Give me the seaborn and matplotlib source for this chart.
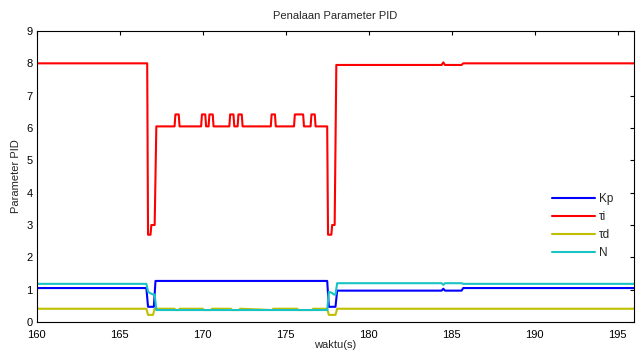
import seaborn as sns
import numpy as np
import pandas as pd
import matplotlib
matplotlib.use("Agg")
import matplotlib.pyplot as plt

# breakpoints (time in s, value)
kp_t = [160, 166.6, 166.7, 167.05, 167.15, 177.5, 177.6, 178.0, 178.1,
        184.4, 184.5, 184.6, 185.6, 185.7, 196]
kp_v = [1.05, 1.05, 0.47, 0.47, 1.27, 1.27, 0.47, 0.47, 0.97,
        0.97, 1.03, 0.97, 0.97, 1.05, 1.05]

ti_t = [160, 166.65, 166.7, 166.85, 166.9, 167.1, 167.2,
        168.3, 168.35, 168.55, 168.6,
        169.9, 169.95, 170.15, 170.2,
        170.35, 170.4, 170.6, 170.65,
        171.6, 171.65, 171.85, 171.9,
        172.1, 172.15, 172.35, 172.4,
        174.1, 174.15, 174.35, 174.4,
        175.5, 175.55, 176.05, 176.1,
        176.5, 176.55, 176.75, 176.8,
        177.5, 177.55, 177.75, 177.8, 177.95, 178.05,
        184.4, 184.5, 184.6, 185.6, 185.7, 196]
ti_v = [8.0, 8.0, 2.7, 2.7, 3.0, 3.0, 6.05,
        6.05, 6.42, 6.42, 6.05,
        6.05, 6.42, 6.42, 6.05,
        6.05, 6.42, 6.42, 6.05,
        6.05, 6.42, 6.42, 6.05,
        6.05, 6.42, 6.42, 6.05,
        6.05, 6.42, 6.42, 6.05,
        6.05, 6.42, 6.42, 6.05,
        6.05, 6.42, 6.42, 6.05,
        6.05, 2.7, 2.7, 3.0, 3.0, 7.95,
        7.95, 8.03, 7.95, 7.95, 8.0, 8.0]

td_t = [160, 166.6, 166.7, 167.0, 167.1,
        168.3, 168.35, 168.55, 168.6,
        170.0, 170.05, 170.5, 170.55,
        171.7, 171.75, 172.2, 172.25,
        174.2, 174.25,
        175.7, 175.75, 176.6, 176.65,
        177.5, 177.6, 178.0, 178.1, 196]
td_v = [0.41, 0.41, 0.22, 0.22, 0.41,
        0.41, 0.37, 0.37, 0.41,
        0.41, 0.37, 0.37, 0.41,
        0.41, 0.37, 0.37, 0.41,
        0.37, 0.41,
        0.41, 0.37, 0.37, 0.41,
        0.41, 0.22, 0.22, 0.41, 0.41]

n_t = [160, 166.6, 166.7, 166.8, 167.0, 167.1, 167.2, 177.5, 177.6, 177.8,
       177.9, 178.0, 178.1, 184.4, 184.5, 184.6, 185.6, 185.7, 196]
n_v = [1.18, 1.18, 0.94, 0.9, 0.85, 0.85, 0.37, 0.37, 0.93, 0.9,
       0.85, 0.85, 1.2, 1.2, 1.15, 1.2, 1.2, 1.18, 1.18]

labels = ["Kp", "\u03c4i", "\u03c4d", "N"]
colors = ["#0000ff", "#ff0000", "#bfbf00", "#19c3c3"]

frames = []
for name, t, v in zip(labels, [kp_t, ti_t, td_t, n_t], [kp_v, ti_v, td_v, n_v]):
    frames.append(pd.DataFrame({"t": t, "v": v, "param": name}))
df = pd.concat(frames, ignore_index=True)

sns.set_style("white")
plt.rcParams["font.family"] = ["Liberation Sans", "DejaVu Sans"]

fig = plt.figure(figsize=(6.36, 3.54), dpi=100)
ax = fig.add_axes([0.058, 0.0904, 0.939, 0.822])

sns.lineplot(data=df, x="t", y="v", hue="param", hue_order=labels,
             palette=colors, estimator=None, sort=False, linewidth=1.5,
             legend=False, ax=ax)

ax.set_xlim(160, 196)
ax.set_ylim(0, 9)
ax.set_xticks(np.arange(160, 196, 5))
ax.set_yticks(np.arange(0, 10, 1))
ax.tick_params(direction="in", length=3, width=0.8, top=True, right=True,
               labelsize=8, colors="black")
ax.tick_params(axis="x", pad=6)
ax.tick_params(axis="y", pad=3)
for s in ax.spines.values():
    s.set_color("black")
    s.set_linewidth(0.8)

ax.set_title("Penalaan Parameter PID", fontsize=8, pad=9)
ax.set_xlabel("waktu(s)", fontsize=8, labelpad=0)
ax.set_ylabel("Parameter PID", fontsize=8, labelpad=4)

handles = [plt.Line2D([], [], color=c, lw=1.5) for c in colors]
ax.legend(handles, labels, loc="center right", bbox_to_anchor=(0.983, 0.33),
          frameon=False, fontsize=8.5, handlelength=3.6, handletextpad=0.35,
          labelspacing=0.5)

fig.savefig("out.png", dpi=100)
